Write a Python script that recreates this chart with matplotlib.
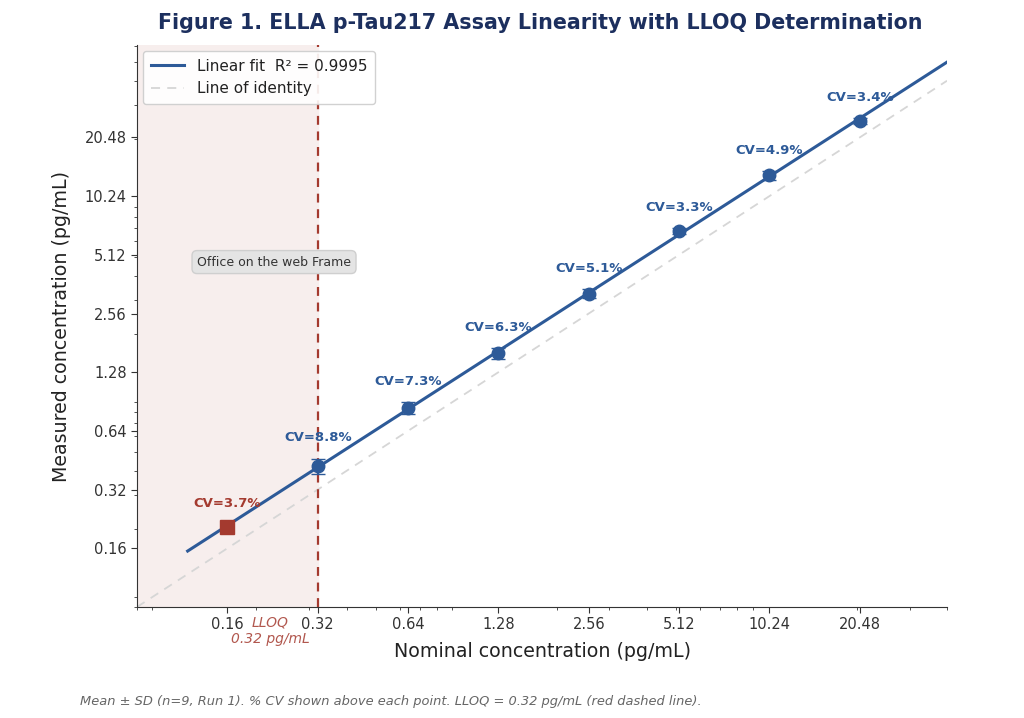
import numpy as np
import matplotlib
matplotlib.use("Agg")
import matplotlib.pyplot as plt
from matplotlib.ticker import FixedLocator, FixedFormatter, NullFormatter, LogLocator

# ---- data ----
nominal = [0.16, 0.32, 0.64, 1.28, 2.56, 5.12, 10.24, 20.48]
measured = [0.205, 0.424, 0.84, 1.60, 3.24, 6.80, 13.1, 24.8]
cv_pct = [3.7, 8.8, 7.3, 6.3, 5.1, 3.3, 4.9, 3.4]
tick_vals = [0.16, 0.32, 0.64, 1.28, 2.56, 5.12, 10.24, 20.48]
tick_labels = ["0.16", "0.32", "0.64", "1.28", "2.56", "5.12", "10.24", "20.48"]
lloq = 0.32
r2_text = "0.9995"
fit_range = [0.118, 40]

BLUE = "#2d5a98"
RED = "#a43a2f"
NAVY = "#1c2f5e"

fig = plt.figure(figsize=(10.24, 7.18), dpi=100)
ax = fig.add_axes([0.1338, 0.1546, 0.791, 0.7827])
ax.set_xscale("log")
ax.set_yscale("log")
ax.set_xlim(0.08, 40)
ax.set_ylim(0.08, 61)

# LLOQ shading and line
ax.axvspan(0.08, lloq, color="#f7eeed", zorder=0)
ax.axvline(lloq, color=RED, ls=(0, (4, 3)), lw=1.6, zorder=2)

# identity line
idl = np.array([0.08, 40])
ax.plot(idl, idl, color="#d6d6d6", ls=(0, (5, 4)), lw=1.3, label="Line of identity", zorder=1)

# fit (straight line on the log-log axes)
lx = np.log10(np.array(nominal))
ly = np.log10(np.array(measured))
coef = np.polyfit(lx, ly, 1)
xf = np.geomspace(fit_range[0], fit_range[1], 200)
ax.plot(xf, 10 ** np.polyval(coef, np.log10(xf)), color=BLUE, lw=2.2,
        label=f"Linear fit  R² = {r2_text}", zorder=3)

# points
for x, y, cv in zip(nominal, measured, cv_pct):
    s = y * cv / 100.0
    c = RED if x < lloq else BLUE
    mk = "s" if x < lloq else "o"
    ax.errorbar(x, y, yerr=s, fmt=mk, color=c, ms=9.5 if mk == "s" else 9, capsize=5,
                elinewidth=1.5, zorder=4)
    ax.annotate(f"CV={cv:.1f}%", (x, y + s), xytext=(0, 15), textcoords="offset points",
                ha="center", va="center", fontsize=9.5, fontweight="bold", color=c, zorder=5)

# ticks
for axis in (ax.xaxis, ax.yaxis):
    axis.set_major_locator(FixedLocator(tick_vals))
    axis.set_major_formatter(FixedFormatter(tick_labels))
    axis.set_minor_locator(LogLocator(base=10, subs="auto", numticks=20))
    axis.set_minor_formatter(NullFormatter())
ax.tick_params(axis="both", which="major", labelsize=10.5, length=4, color="#333333", labelcolor="#333333")
ax.tick_params(axis="both", which="minor", length=2.5, color="#333333")

for sp in ("top", "right"):
    ax.spines[sp].set_visible(False)
for sp in ("left", "bottom"):
    ax.spines[sp].set_color("#333333")

ax.set_xlabel("Nominal concentration (pg/mL)", fontsize=13.7, color="#222222", labelpad=7)
ax.set_ylabel("Measured concentration (pg/mL)", fontsize=13.7, color="#222222", labelpad=10)

# LLOQ label (two lines)
xt = ax.get_xaxis_transform()
ax.text(0.222, -0.016, "LLOQ", transform=xt, ha="center", va="top",
        fontsize=10, fontstyle="italic", color=RED, alpha=0.85)
ax.text(0.222, -0.045, f"{lloq:.2f} pg/mL", transform=xt, ha="center", va="top",
        fontsize=10, fontstyle="italic", color=RED, alpha=0.85)

# legend
handles, labels = ax.get_legend_handles_labels()
leg = ax.legend(handles[::-1], labels[::-1], loc="upper left", fontsize=11, frameon=True,
                framealpha=0.9, edgecolor="#cccccc", borderpad=0.5, labelspacing=0.5,
                handlelength=2.2, borderaxespad=0.4)
for t in leg.get_texts():
    t.set_color("#222222")

# title
fig.text(0.528, 0.968, "Figure 1. ELLA p-Tau217 Assay Linearity with LLOQ Determination",
         ha="center", va="center", fontsize=14.9, fontweight="bold", color=NAVY)

# tooltip box
fig.text(0.2676, 0.635, "Office on the web Frame", ha="center", va="center", fontsize=9, color="#333333",
         bbox=dict(boxstyle="round,pad=0.4", fc="#e4e4e4", ec="#cfcfcf"))

# caption
fig.text(0.078, 0.023, "Mean ± SD (n=9, Run 1). % CV shown above each point. LLOQ = 0.32 pg/mL (red dashed line).",
         ha="left", va="center", fontsize=9.4, fontstyle="italic", color="#666666")

fig.savefig("out.png", dpi=100)
